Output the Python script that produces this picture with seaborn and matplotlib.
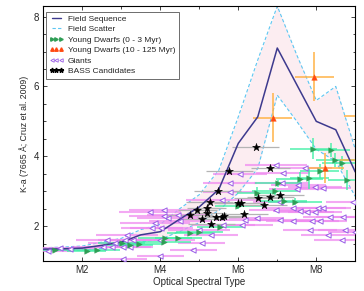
"""
K-a index versus optical spectral type: field sequence, young dwarfs,
giants and BASS candidates.
"""

import matplotlib

matplotlib.use("Agg")

import matplotlib.pyplot as plt
import seaborn as sns
from matplotlib.lines import Line2D

# Field sequence and its scatter band
seq_type = [1, 1.5, 2, 2.5, 3, 3.5, 4, 4.5, 5, 5.5, 6, 6.5, 7, 7.5, 8, 8.5, 9]
seq_ka = [1.34, 1.35, 1.37, 1.45, 1.54, 1.75, 1.84, 2.2, 2.55, 3.05, 4.37, 5.13, 7.1, 6.05, 5.0, 4.76, 3.55]
seq_upper = [1.38, 1.40, 1.43, 1.54, 1.65, 1.9, 2.05, 2.5, 2.9, 3.6, 5.13, 6.76, 8.3, 6.9, 5.6, 6.0, 4.2]
seq_lower = [1.29, 1.30, 1.32, 1.36, 1.42, 1.55, 1.62, 1.85, 2.1, 2.45, 2.95, 3.65, 5.75, 5.0, 4.2, 3.85, 2.85]

# Young dwarfs (0 - 3 Myr)
yd1_type = [1.3, 2.11, 2.37, 3.01, 3.22, 3.45, 4.09, 4.12, 4.46, 4.76, 5.0, 5.53, 6.0,
            6.47, 6.94, 7.03, 7.16, 7.45, 7.58, 7.82, 8.09, 7.92, 8.37, 8.49, 8.65, 8.8]
yd1_ka = [1.32, 1.30, 1.32, 1.51, 1.46, 1.49, 1.55, 1.65, 1.65, 1.79, 1.84, 1.98, 2.58,
          2.96, 3.0, 3.23, 2.72, 2.70, 3.34, 3.37, 3.57, 4.22, 4.18, 3.90, 3.80, 3.32]
yd1_xerr = [0.5, 0.5, 0.6, 0.6, 0.6, 0.6, 0.7, 0.7, 0.6, 0.6, 0.6, 0.6, 0.6,
            0.5, 0.6, 0.6, 0.6, 0.7, 0.6, 0.5, 0.5, 0.6, 0.5, 0.5, 0.5, 0.5]
yd1_yerr = [0.03, 0.03, 0.03, 0.05, 0.05, 0.05, 0.05, 0.05, 0.05, 0.05, 0.05, 0.05, 0.1,
            0.15, 0.1, 0.1, 0.1, 0.1, 0.2, 0.3, 0.2, 0.3, 0.2, 0.2, 0.2, 0.3]

# Young dwarfs (10 - 125 Myr)
yd2_type = [6.88, 7.95, 8.22, 9.3, 9.25]
yd2_ka = [5.11, 6.28, 3.67, 5.15, 3.9]
yd2_xerr = [0.5, 0.5, 0.5, 0.6, 0.65]
yd2_yerr = [0.7, 0.7, 0.43, 0.3, 0.3]

# Giants
giant_type = [1.13, 1.43, 1.68, 2.54, 2.63, 2.75, 2.84, 3.05, 3.05, 3.09, 3.14, 3.22, 3.31,
              3.74, 3.78, 3.86, 4.0, 4.09, 4.09, 4.21, 4.03, 3.99, 4.46, 4.5, 4.85, 5.0,
              5.06, 5.3, 5.57, 5.62, 5.79, 5.79, 6.04, 6.09, 6.17, 6.47, 6.97, 6.98, 7.07,
              7.07, 7.11, 7.15, 7.41, 7.41, 7.5, 7.54, 7.58, 7.71, 7.75, 7.84, 7.88, 7.97,
              7.97, 8.05, 8.1, 8.18, 8.18, 8.31, 8.35, 8.65, 8.69, 8.74, 8.95, 8.99]
giant_ka = [1.29, 1.36, 1.34, 1.41, 1.60, 1.41, 1.51, 1.41, 1.05, 1.60, 1.75, 1.41, 1.60,
            2.41, 1.94, 2.08, 1.15, 2.46, 2.29, 2.22, 1.96, 1.60, 2.32, 2.15, 1.33, 1.89,
            1.51, 1.75, 2.75, 2.03, 3.24, 2.97, 3.48, 2.03, 2.18, 2.22, 3.75, 2.46, 2.70,
            2.18, 3.23, 3.53, 2.53, 2.16, 3.05, 3.18, 2.43, 3.66, 2.41, 1.89, 2.16, 3.13,
            2.41, 2.51, 2.16, 3.08, 2.53, 1.74, 2.27, 1.60, 2.25, 1.89, 2.70, 1.84]
giant_xerr = [0.6, 0.6, 0.7, 0.8, 0.8, 0.7, 0.7, 0.7, 0.6, 0.7, 0.8, 0.6, 0.7,
              0.8, 0.8, 0.9, 0.6, 0.9, 0.9, 0.8, 0.8, 0.9, 0.8, 0.8, 0.6, 0.8,
              0.6, 0.7, 0.9, 0.8, 0.7, 0.7, 0.7, 0.8, 0.8, 0.7, 0.8, 0.7, 0.7,
              0.8, 0.7, 0.7, 0.8, 0.7, 0.7, 0.7, 0.7, 0.7, 0.7, 0.7, 0.7, 0.7,
              0.7, 0.7, 0.7, 0.7, 0.7, 0.7, 0.7, 0.7, 0.7, 0.7, 0.7, 0.7]

# BASS candidates
bass_type = [6.45, 6.82, 5.77, 5.47, 5.27, 4.95, 4.76, 5.19, 5.19, 5.06, 5.31,
             5.43, 5.57, 5.64, 5.98, 6.07, 6.15, 6.5, 6.66, 6.82, 7.08]
bass_ka = [4.26, 3.67, 3.58, 3.01, 2.70, 2.46, 2.32, 2.51, 2.37, 2.19, 2.07,
           2.25, 2.25, 2.29, 2.67, 2.67, 2.36, 2.81, 2.60, 2.82, 2.90]
bass_xerr = [0.6, 0.5, 0.6, 0.6, 0.6, 0.5, 0.6, 0.5, 0.5, 0.6, 0.6,
             0.5, 0.5, 0.5, 0.6, 0.6, 0.6, 0.6, 0.6, 0.6, 0.6]

x_ticks = [2, 4, 6, 8]
x_tick_labels = ["M2", "M4", "M6", "M8"]
y_ticks = [2, 4, 6, 8]

SEQ_COLOR = "#3d3a8e"
SCATTER_COLOR = "#5cc6f2"
BAND_COLOR = "#fcedf1"
YD1_COLOR = "#2f9e55"
YD1_ERR = "#3ef0a4"
YD2_COLOR = "#ff4a12"
YD2_ERR = "#ffb347"
GIANT_COLOR = "#9a5ce6"
GIANT_ERR = "#f08cf0"
BASS_ERR = "#b4b4b4"


def main() -> None:
    sns.set_style("ticks")
    plt.rcParams["font.family"] = ["Liberation Sans", "DejaVu Sans"]

    fig = plt.figure(figsize=(3.64, 2.91), dpi=100)
    ax = fig.add_axes([0.119, 0.103, 0.857, 0.876])

    ax.fill_between(seq_type, seq_lower, seq_upper, color=BAND_COLOR, lw=0, zorder=1)
    for bound in (seq_upper, seq_lower):
        sns.lineplot(x=seq_type, y=bound, color=SCATTER_COLOR, lw=0.8, sort=False,
                     estimator=None, ax=ax, zorder=2).lines[-1].set_dashes([3, 2])

    ax.errorbar(giant_type, giant_ka, xerr=giant_xerr, yerr=0.03, fmt="none",
                ecolor=GIANT_ERR, elinewidth=1.5, alpha=0.75, zorder=3)
    ax.errorbar(yd1_type, yd1_ka, xerr=yd1_xerr, yerr=yd1_yerr, fmt="none",
                ecolor=YD1_ERR, elinewidth=1.1, alpha=0.9, zorder=3)
    ax.errorbar(bass_type, bass_ka, xerr=bass_xerr, yerr=0.02, fmt="none",
                ecolor=BASS_ERR, elinewidth=0.9, zorder=3)
    ax.errorbar(yd2_type, yd2_ka, xerr=yd2_xerr, yerr=yd2_yerr, fmt="none",
                ecolor=YD2_ERR, elinewidth=1.1, zorder=3)

    sns.lineplot(x=seq_type, y=seq_ka, color=SEQ_COLOR, lw=1.1, sort=False,
                 estimator=None, ax=ax, zorder=4)

    sns.scatterplot(x=giant_type, y=giant_ka, marker="<", s=14, color="white",
                    edgecolor=GIANT_COLOR, linewidth=0.7, ax=ax, zorder=5)
    sns.scatterplot(x=yd1_type, y=yd1_ka, marker=">", s=16, color=YD1_COLOR,
                    edgecolor=YD1_COLOR, linewidth=0.3, ax=ax, zorder=5)
    sns.scatterplot(x=yd2_type, y=yd2_ka, marker="^", s=16, color=YD2_COLOR,
                    edgecolor=YD2_COLOR, linewidth=0.3, ax=ax, zorder=5)
    sns.scatterplot(x=bass_type, y=bass_ka, marker="*", s=36, color="black",
                    edgecolor="black", linewidth=0.3, ax=ax, zorder=6)

    ax.set_xlim(1, 9)
    ax.set_ylim(1, 8.3)
    ax.set_xticks(x_ticks)
    ax.set_xticklabels(x_tick_labels)
    ax.set_xticks([1, 3, 5, 7, 9], minor=True)
    ax.set_yticks(y_ticks)
    ax.set_yticks([v / 2 for v in range(2, 17)], minor=True)
    ax.tick_params(which="both", direction="in", top=True, right=True,
                   labelsize=7, width=0.6, pad=3)
    ax.tick_params(which="major", length=3)
    ax.tick_params(which="minor", length=1.8)
    for spine in ax.spines.values():
        spine.set_linewidth(0.8)
        spine.set_color("black")

    ax.set_xlabel("Optical Spectral Type", fontsize=7, labelpad=1)
    ax.set_ylabel("K-a (7665 Å; Cruz et al. 2009)", fontsize=6.3, labelpad=3)

    handles = [
        Line2D([], [], color=SEQ_COLOR, lw=1.0),
        Line2D([], [], color=SCATTER_COLOR, lw=0.8, dashes=[3, 2]),
        Line2D([], [], color=YD1_COLOR, marker=">", ls="none", ms=2.5),
        Line2D([], [], color=YD2_COLOR, marker="^", ls="none", ms=2.5),
        Line2D([], [], color=GIANT_COLOR, marker="<", ls="none", ms=2.5,
               mfc="white", mew=0.6),
        Line2D([], [], color="black", marker="*", ls="none", ms=3.5),
    ]
    labels = ["Field Sequence", "Field Scatter", "Young Dwarfs (0 - 3 Myr)",
              "Young Dwarfs (10 - 125 Myr)", "Giants", "BASS Candidates"]
    legend = ax.legend(handles, labels, loc="upper left", bbox_to_anchor=(0.01, 0.978),
                       fontsize=6, numpoints=3, handlelength=1.6, handletextpad=0.6,
                       labelspacing=0.32, borderpad=0.4, borderaxespad=0,
                       frameon=True, fancybox=False, framealpha=1)
    legend.get_frame().set_edgecolor("#555555")
    legend.get_frame().set_linewidth(0.6)

    fig.savefig("out.png", dpi=100)
    plt.close(fig)


if __name__ == "__main__":
    main()
